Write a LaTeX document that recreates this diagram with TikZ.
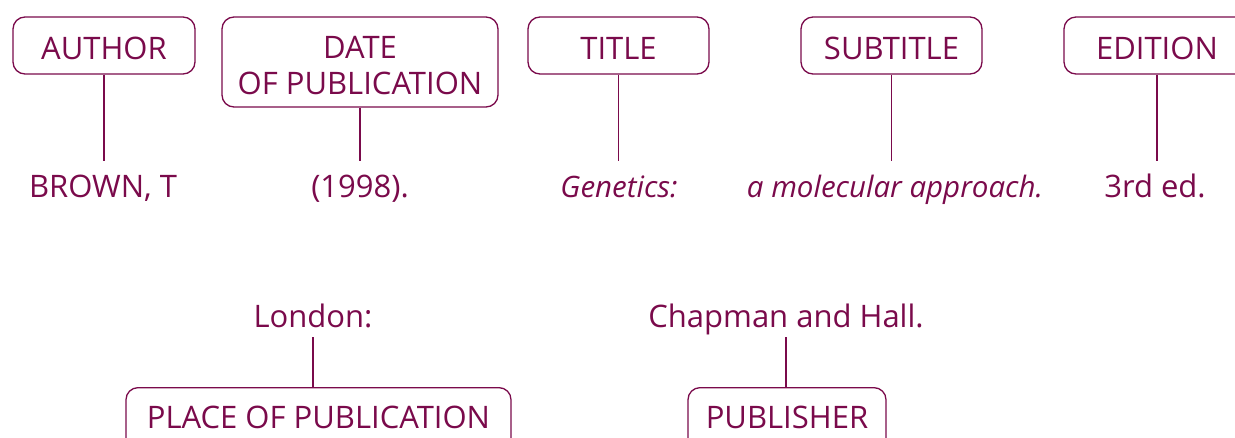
\documentclass[tikz,border=0pt]{standalone}
\usepackage{fontspec}
\setmainfont{Open Sans}
\definecolor{plum}{RGB}{122,10,75}
\tikzset{
  box/.style={draw=plum, line width=1.3pt, rounded corners=12pt, text=plum, font=\fontsize{31}{36}\selectfont, align=center, inner sep=0pt},
  lbl/.style={text=plum, font=\fontsize{31}{36}\selectfont, inner xsep=0pt, anchor=base},
  ital/.style={font=\fontsize{29.5}{36}\selectfont\itshape},
  conn/.style={draw=plum, line width=1.3pt}
}
\begin{document}
\begin{tikzpicture}[x=1pt,y=-1pt]
\useasboundingbox (0,0) rectangle (1235,437);
\clip (0,0) rectangle (1235,437);
% top boxes
\tikzset{topbox/.style={box, minimum height=57pt, text height=27pt, text depth=0pt}}
\node[topbox, minimum width=182pt] (author) at (104,45.5) {AUTHOR};
\node[box, minimum width=276pt, minimum height=90pt] (date) at (360,62) {\rule{0pt}{30pt}DATE\\OF PUBLICATION};
\node[topbox, minimum width=181pt] (title) at (618.5,45.5) {TITLE};
\node[topbox, minimum width=181pt] (subtitle) at (891.5,45.5) {SUBTITLE};
\node[topbox, minimum width=186pt] (edition) at (1157,45.5) {EDITION};
% top labels
\tikzset{toplbl/.style={lbl, text height=24pt, inner ysep=12pt}}
\node[toplbl] (brown) at (103,197) {BROWN, T};
\node[toplbl] (year) at (360,197) {(1998).};
\node[toplbl, ital] (genetics) at (619,197) {Genetics:};
\node[toplbl, ital] (molecular) at (895,197) {a molecular approach.};
\node[toplbl] (ed) at (1155,197) {3rd ed.};
\draw[conn] (author.south) -- (author.south |- brown.north);
\draw[conn] (date.south) -- (date.south |- year.north);
\draw[conn] (title.south) -- (title.south |- genetics.north);
\draw[conn] (subtitle.south) -- (subtitle.south |- molecular.north);
\draw[conn] (edition.south) -- (edition.south |- ed.north);
% bottom labels
\tikzset{botlbl/.style={lbl, text depth=0pt, inner ysep=10pt}}
\node[botlbl] (london) at (313,327) {London:};
\node[botlbl] (chapman) at (786,327) {Chapman and Hall.};
% bottom boxes (cut off by the page edge)
\tikzset{botbox/.style={box, anchor=north, text height=23pt, text depth=45pt, inner ysep=18pt}}
\node[botbox, minimum width=385pt] (place) at (318.5,387) {PLACE OF PUBLICATION};
\node[botbox, minimum width=198pt] (publisher) at (787,387) {PUBLISHER};
\draw[conn] (london.south) -- (london.south |- place.north);
\draw[conn] (chapman.south) -- (chapman.south |- publisher.north);
\end{tikzpicture}
\end{document}
